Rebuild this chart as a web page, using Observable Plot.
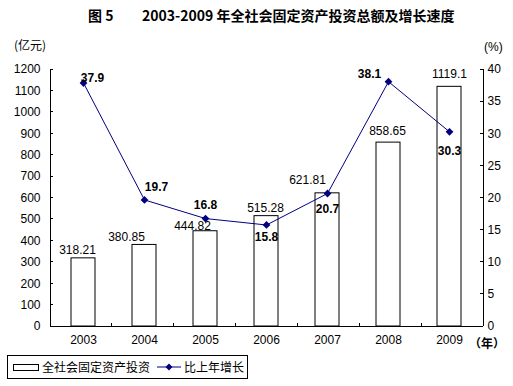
<!DOCTYPE html>
<html><head><meta charset="utf-8">
<script src="https://cdn.jsdelivr.net/npm/d3@7"></script>
<script src="https://cdn.jsdelivr.net/npm/@observablehq/plot@0.6"></script>
<style>
body{margin:0;background:#fff;}
#wrap{position:relative;width:513px;height:386px;overflow:hidden;background:#fff;color:#000;font-family:"Liberation Sans",Arial,sans-serif;}
.abs{position:absolute;white-space:nowrap;line-height:16px;z-index:2;}
.cjk{font-family:"Noto Sans CJK SC",sans-serif;}
#chart{position:absolute;left:0;top:0;z-index:1;}
#legend{position:absolute;left:7px;top:355px;width:241px;height:24px;box-sizing:border-box;border:1px solid #000;display:flex;align-items:center;font-family:"Noto Sans CJK SC",sans-serif;font-size:12px;line-height:14px;z-index:2;}
</style></head><body>
<div id="wrap">
  <div id="chart"></div>
  <div class="abs cjk" style="left:88px;top:7px;font-size:14px;font-weight:bold;">图 5</div>
  <div class="abs cjk" style="left:142px;top:7px;font-size:14px;font-weight:bold;">2003-2009 年全社会固定资产投资总额及增长速度</div>
  <div class="abs cjk" style="left:14px;top:37px;font-size:12px;">(亿元)</div>
  <div class="abs" style="left:484px;top:39px;font-size:12px;">(%)</div>
  <div class="abs cjk" style="left:469px;top:335px;font-size:12px;font-weight:bold;">（年）</div>
  <div id="legend">
    <span style="display:inline-block;width:24px;height:5px;border:1px solid #000;background:#fff;margin-left:5px;"></span>
    <span style="margin-left:3px;">全社会固定资产投资</span>
    <svg width="24" height="10" style="margin-left:7px;"><line x1="0" y1="5" x2="24" y2="5" stroke="#000080" stroke-width="1"/><path d="M12,1.5L15.5,5L12,8.5L8.5,5Z" fill="#000080"/></svg>
    <span style="margin-left:3px;">比上年增长</span>
  </div>
</div>
<script>
const years = ["2003", "2004", "2005", "2006", "2007", "2008", "2009"];
const investment = [318.21, 380.85, 444.82, 515.28, 621.81, 858.65, 1119.1];
const growth = [37.9, 19.7, 16.8, 15.8, 20.7, 38.1, 30.3];
const leftTicks = [0, 100, 200, 300, 400, 500, 600, 700, 800, 900, 1000, 1100, 1200];
const rightTicks = [0, 5, 10, 15, 20, 25, 30, 35, 40];

// label placement nudges (pixels), styling only
const barLabelNudge = [[-6, -8], [-18, -8], [-13, -5], [-1, -8], [-20, -13], [-1, -11], [0, -13]];
const growthLabelNudge = [[9, -5], [12, -13], [0, -13], [0, 12], [0, 16], [-19, -8], [0, 19]];

const k = leftTicks[leftTicks.length - 1] / rightTicks[rightTicks.length - 1];
const table = years.map((y, i) => ({year: y, inv: investment[i], g: growth[i], gy: growth[i] * k}));
const navy = "#000080";

const axesMark = (index, scales, values, dims) => {
  const g = d3.create("svg:g").attr("stroke", "#000").attr("stroke-width", 1).attr("shape-rendering", "crispEdges");
  const x0 = dims.marginLeft, x1 = dims.width - dims.marginRight;
  const yb = dims.height - dims.marginBottom, yt = dims.marginTop;
  const ln = (a, b, c, d) => g.append("line").attr("x1", a).attr("y1", b).attr("x2", c).attr("y2", d);
  ln(x0, yt, x0, yb); ln(x1, yt, x1, yb); ln(x0, yb, x1, yb);
  for (const t of leftTicks) { const y = scales.y(t); ln(x0, y, x0 + 3, y); }
  for (const t of rightTicks) { const y = scales.y(t * k); ln(x1 - 3, y, x1, y); }
  const step = (x1 - x0) / years.length;
  for (let i = 1; i < years.length; i++) { const x = x0 + i * step; ln(x, yb - 3, x, yb); }
  return g.node();
};

const chart = Plot.plot({
  width: 513, height: 355,
  marginLeft: 50, marginRight: 30, marginTop: 69, marginBottom: 29,
  style: {fontFamily: "'Liberation Sans', Arial, sans-serif", fontSize: "12px", color: "#000", background: "transparent", overflow: "visible"},
  x: {domain: years, paddingInner: 0.6, paddingOuter: 0.3, axis: null},
  y: {domain: [0, 1200], axis: null},
  marks: [
    Plot.barY(table, {x: "year", y: "inv", fill: "white", stroke: "black", strokeWidth: 1}),
    axesMark,
    Plot.line(table, {x: "year", y: "gy", stroke: navy, strokeWidth: 1}),
    Plot.dot(table, {x: "year", y: "gy", symbol: "diamond2", r: 3.5, fill: navy, stroke: "none"}),
    Plot.text(leftTicks, {y: d => d, text: d => String(d), frameAnchor: "left", dx: -10, textAnchor: "end", fill: "#000"}),
    Plot.text(rightTicks, {y: d => d * k, text: d => String(d), frameAnchor: "right", dx: 4, textAnchor: "start", fill: "#000"}),
    Plot.text(years, {x: d => d, text: d => d, frameAnchor: "bottom", dy: 17, fill: "#000"}),
    ...table.map((d, i) => Plot.text([d], {x: "year", y: "inv", text: r => String(r.inv), dx: barLabelNudge[i][0], dy: barLabelNudge[i][1], fill: "#000"})),
    ...table.map((d, i) => Plot.text([d], {x: "year", y: "gy", text: r => String(r.g), dx: growthLabelNudge[i][0], dy: growthLabelNudge[i][1], fill: "#000", fontWeight: "bold"}))
  ]
});
document.getElementById("chart").appendChild(chart);
</script>
</body></html>
